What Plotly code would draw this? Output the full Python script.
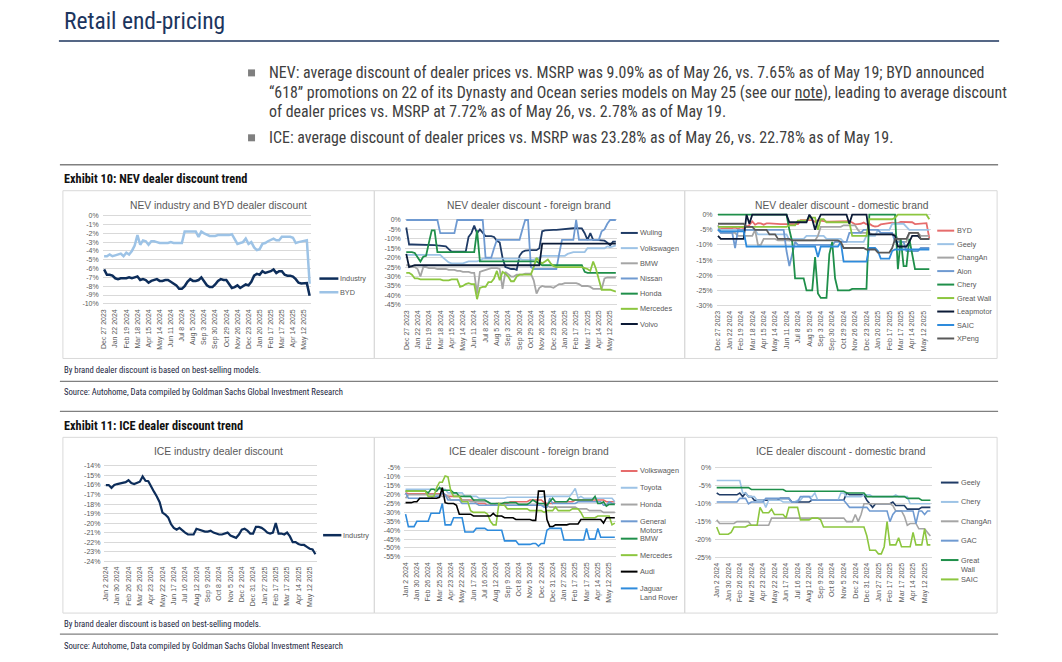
import plotly.graph_objects as go

# ---------------- tick labels ----------------
NEV_TICKS = ["Dec 27 2023", "Jan 22 2024", "Feb 19 2024", "Mar 18 2024", "Apr 15 2024",
             "May 14 2024", "Jun 11 2024", "Jul 8 2024", "Aug 5 2024", "Sep 3 2024",
             "Sep 30 2024", "Oct 29 2024", "Nov 26 2024", "Dec 23 2024", "Jan 20 2025",
             "Feb 17 2025", "Mar 17 2025", "Apr 14 2025", "May 12 2025"]
ICE_TICKS = ["Jan 2 2024", "Jan 30 2024", "Feb 26 2024", "Mar 25 2024", "Apr 23 2024",
             "May 22 2024", "Jun 17 2024", "Jul 16 2024", "Aug 12 2024", "Sep 9 2024",
             "Oct 8 2024", "Nov 5 2024", "Dec 2 2024", "Dec 31 2024", "Jan 27 2025",
             "Feb 17 2025", "Mar 17 2025", "Apr 14 2025", "May 12 2025"]

# ---------------- NEV industry & BYD (%) ----------------
nev_industry = [-6.1, -6.7, -6.7, -6.8, -7.1, -7.2, -7.1, -7.1, -7.1, -7.0,
                -7.1, -7.0, -6.9, -7.3, -7.2, -7.3, -7.6, -7.4, -7.3, -7.2,
                -7.4, -7.4, -7.3, -7.3, -7.5, -7.7, -7.9, -8.3, -8.3, -8.0,
                -7.5, -7.2, -7.4, -7.4, -7.3, -7.0, -7.5, -7.9, -8.1, -8.1,
                -7.8, -7.4, -7.2, -7.3, -7.3, -7.8, -8.2, -8.1, -7.9, -8.2,
                -8.0, -7.8, -7.9, -7.5, -6.8, -6.6, -6.7, -6.3, -6.5, -6.4,
                -6.3, -6.1, -6.5, -6.3, -6.3, -6.7, -6.8, -6.8, -6.9, -7.2,
                -7.6, -7.7, -7.7, -7.65, -9.09]
nev_byd = [-4.6, -4.6, -4.4, -4.6, -4.5, -4.4, -4.3, -4.6, -4.2, -4.4,
           -4.0, -3.4, -2.2, -3.3, -2.8, -2.9, -3.3, -2.9, -2.9, -3.0,
           -3.1, -3.1, -3.1, -3.1, -3.0, -3.1, -3.1, -3.1, -3.1, -1.8,
           -1.8, -1.8, -1.8, -1.8, -2.4, -1.8, -2.0, -2.2, -2.3, -2.3,
           -2.3, -2.2, -2.2, -2.2, -2.2, -2.2, -2.1, -2.6, -3.2, -3.1,
           -3.0, -2.6, -3.2, -3.0, -3.6, -3.9, -3.8, -3.2, -3.1, -2.9,
           -2.7, -2.6, -2.8, -2.8, -2.4, -2.4, -2.4, -2.4, -2.5, -3.1,
           -3.0, -2.9, -2.8, -2.78, -7.72]

# ---------------- NEV foreign brands (%) ----------------
nev_wuling = [-4, -13, -13, -13, -13, -13, -13, -13, -13, -13,
              -13.3, -13.5, -13.6, -13.6, -14, -15.5, -16.8, -16.8, -16.8, -16.8,
              -16.8, -16.8, -9, -7, -3, -7, -5, -7, -8.5, -8.6,
              -8.6, -9, -11, -12, -20, -25, -25.5, -26, -26, -26.5,
              -19, -17, -16.3, -16, -16, -16, -16, -15, -6, -5.5,
              -5.3, -5.3, -5.2, -5.2, -5, -5, -4.8, -4.8, -4.6, -4.4,
              -4.4, -4.4, -4.5, -7, -10.5, -7, -10.5, -10.6, -10.6, -10.8,
              -11, -12, -13.5, -11.5, -11.5]
nev_vw = [-18.5, -18.5, -18.5, -18.5, -18.5, -18.5, -18.5, -18.5, -18.5, -18.5,
          -18.5, -18.5, -18.5, -20, -21.5, -22.5, -23, -23, -23, -23,
          -23, -22.5, -22, -22, -22, -22, -21.5, -20.5, -20.5, -20.5,
          -20.5, -20.5, -20.5, -20.5, -20.5, -20.5, -20.5, -20.5, -20.5, -20.5,
          -20.5, -21, -21, -21, -21, -21, -20.5, -20, -19, -19,
          -19, -19, -19, -19, -19, -19, -19, -18, -17.5, -17,
          -17, -17, -17, -17, -15, -15, -15, -15, -15, -15,
          -15, -14, -14.5, -14, -13.5]
nev_bmw = [-24, -24, -25, -25, -26, -30, -25, -25, -25.5, -25.5,
           -25.5, -26, -26, -26, -26, -26.5, -26.5, -26.5, -27, -27,
           -27.5, -27.5, -27.5, -28, -28, -39, -27.5, -27, -26.5, -26,
           -25.5, -25.5, -25.5, -26, -36.5, -27.5, -29, -30, -30, -29,
           -29, -29, -28.5, -28.5, -28.5, -32, -39, -36, -35, -35.5,
           -35.5, -35.5, -36, -35, -34, -34, -33.5, -33.5, -33.5, -33.5,
           -33.5, -34, -35, -35, -35, -35.5, -36.5, -36.5, -36.5, -36.5,
           -31, -30.5, -30.5, -30.5, -30.5]
nev_nissan = [0, 0, 0, 0, 0, 0, 0, 0, 0, 0,
              0, 0, -7, -7, -7, -7, -7, -7, 0, 0,
              0, 0, 0, 0, 0, 0, 0, 0, -20, -20,
              -20, -15, -10.5, -10.5, -10.5, -10.5, -10.5, -10.5, -10.5, -10.5,
              -10.5, -5, 0, 0, -25, -26, -26, -26, -26, -26,
              -26, -26, -26, -26, -18, -10.5, -10.5, -10.5, -10.5, -10.5,
              0, -10.5, -10.5, -10.5, -10.5, -10.5, -10.5, -10.5, -10.5, -6,
              -5, -2, 0, 0, 0]
nev_honda = [-17, -17, -17, -17.5, -20, -22, -19.5, -19, -12, -5.5,
             -5.5, -17, -17, -17, -17, -17, -17, -17, -17, -17,
             -17, -17, -17, -17, -17, -5.5, -22, -22, -22, -22,
             -22, -22, -22, -22, -22, -22, -22, -22, -22, -22,
             -22, -22, -22, -22, -22, -22, -22, -23, -24, -24,
             -24, -24, -24, -24, -24, -24, -24, -24, -24, -24,
             -24, -24, -24, -27.5, -28, -28, -28, -28, -28, -28,
             -28, -28, -28, -28, -28]
nev_mercedes = [-28, -28, -29, -31, -31, -31.5, -31.5, -31.5, -31.5, -31.5,
                -31.5, -31.5, -31.5, -32, -32, -32, -31.5, -31.5, -31.5, -35.5,
                -35, -34, -33.5, -34, -34, -42, -36, -35.5, -35.5, -33,
                -33, -31, -27, -32, -27.5, -28.5, -30, -32.5, -32.5, -30,
                -29, -29, -29, -29, -29, -25, -20, -22, -23, -22,
                -21, -23, -24.5, -25, -25, -25, -25, -25, -25, -25,
                -25, -25, -25, -25.5, -26, -27, -22, -26, -32, -37,
                -37, -37, -37, -37.5, -38]
nev_volvo = [-18, -25, -24.5, -24, -24, -24, -24, -24, -24, -24,
             -24, -24, -24, -24, -24, -24, -24, -24, -24, -24,
             -24, -24, -24, -24, -24, -24, -24, -24, -24, -24,
             -24, -24, -24, -24, -24, -24, -24, -24, -24, -24,
             -24, -24, -24, -24, -24, -24, -24, -24, -12.5, -12.5,
             -12.5, -12.5, -12.5, -12.5, -12.5, -12.5, -12.5, -12.5, -12.5, -12.5,
             -12.5, -12.5, -12.5, -12.5, -12.5, -12.5, -12.5, -12.5, -12.5, -12.5,
             -12.5, -12.5, -12.5, -12.5, -12.5]

# ---------------- NEV domestic brands (%) ----------------
nev_geely = [-4.5, -5, -5, -5, -5, -5, -5, -5, -5, -5,
             -5, -5, -5, -5, -6.5, -6.5, -6.5, -6.5, -6.5, -6.5,
             -6.5, -6.5, -6.5, -6.5, -6.5, -8.5, -8, -8, -8, -8,
             -8, -7, -7, -7, -7, -7, -7, -7, -8, -8,
             -8, -8, -8, -8, -9, -9, -9, -9, -9, -9,
             -9, -9, -7, -7, -7, -7, -5, -5, -5, -5,
             -5, -3, -3, -3, -3, -3, -4, -5, -5, -5,
             -5, -5, -5, -5, -5]
nev_changan = [-3.5, -6, -6, -6, -6, -6, -6, -7, -7, -7,
               -7, -7, -7, -5, -10, -10, -8, -8, -8, -8,
               -8, -8.5, -8.5, -8.5, -8.5, -8.5, -8.5, -8.5, -8.5, -8.5,
               -8.5, -8.5, -8.5, -8.5, -8.5, -7, -4, -4, -4, -4,
               -4, -4, -4, -4, -3.5, -3.5, -3.5, -3.5, -3.5, -5,
               -6, -6, -6, -6, -6.5, -6.5, -6.5, -6.5, -6.5, -6.5,
               -6.5, -6.5, -6.5, -8, -9, -9, -9, -6, -6, -6,
               -6, -7, -7, -7, -7]
nev_aion = [-5, -6, -6, -6, -6, -6, -11, -5, -5, -5,
            -5, -5, -5, -5, -5, -5, -5, -5, -5, -5,
            -5, -5, -5, -5, -12, -17, -13, -9, -10, -10,
            -10, -10, -10, -10, -10, -10, -10, -10, -10, -10,
            -10, -9, -9, -9, -9, -9, -6, -6, -6, -6,
            -6, -5, -5, -5, -5, -5, -5, -6, -6, -6,
            -6, -6, -9, -9, -9, -9, -12, -12, -12, -12,
            -12, -11, -11, -11, -11]
nev_chery = [0, 0, 0, 0, 0, 0, 0, 0, 0, 0,
             0, 0, 0, 0, 0, 0, 0, 0, 0, 0,
             0, 0, 0, 0, 0, -5, -9, -21, -21, -21,
             -21, -25, -25, -25, -14, -26, -27.5, -27.5, -27.5, -13,
             -9, -21, -25, -25, -25, -25, -25, -24.5, -24.5, -24.5,
             -24.5, -24.5, -24.5, 0, 0, 0, 0, 0, 0, 0,
             0, 0, 0, -18, -8, -17, -17, -8, -13, -18,
             -18, -18, -18, -18, -18]
nev_greatwall = [-4, -4, -4, -4, -4, -4, -4, -4, -4, -4,
                 -4, -4, -4, -4, -4, -4, -4, -4, -4, -4,
                 -4, -4, -4, -4, -4, -3.5, -3.5, -3.5, -2, -2,
                 -2, -2, -1, -1, -1, -5, -1.5, -1.5, -2.5, -2.5,
                 -2.5, -2.5, -2.5, -2.5, -2.5, -2.5, -2.5, -7, -7, -7,
                 -7, -7, -7, -1.5, -1.5, -1.5, -1.5, -1.5, -1.5, -1.5,
                 -1.5, -1.5, -1, 0, 0, 0, 0, 0, 0, 0,
                 0, 0, 0, 0, -1.5]
nev_leapmotor = [-7, -8, -8, -8, -8, -8, -8, -8, -8, -8,
                 0, -3, 0, 0, 0, 0, 0, 0, 0, 0,
                 0, 0, 0, 0, 0, -2.5, -2.5, -2.5, -2.5, -2.5,
                 -2.5, -2.5, 0, -1.5, -5, -2, 0, 0, 0, 0,
                 0, 0, 0, 0, 0, 0, -3, 0, 0, 0,
                 0, 0, 0, -6.5, -6.5, -6.5, -6.5, -6.5, -6.5, -6.5,
                 -6.5, -6.5, -7, -10.5, -10.5, -10.5, -10.5, -9, -7, -7,
                 -7, -8, -8, -8, -8]
nev_saic = [-5, -5.5, -5.5, -5.5, -5.5, -5.5, -5.5, -5.5, -5.5, -5.5,
            -10.5, -10.5, -10.5, -10.5, -10.5, -10.5, -10.5, -10.5, -10.5, -10.5,
            -10.5, -10.5, -10.5, -10.5, -10.5, -10.5, -10.5, -10.5, -10.5, -10.5,
            -10.5, -10.5, -10.5, -10.5, -10.5, -14, -10.5, -10.5, -10.5, -10.5,
            -10.5, -10.5, -10.5, -9, -15.5, -15.5, -15.5, -15.5, -15.5, -15.5,
            -15.5, -15.5, -15.5, -11, -11, -11, -12, -14.5, -14.5, -14.5,
            -14.5, -12, -11.5, -11.5, -11.5, -11.5, -11.5, -11.5, -11.5, -11.5,
            -11.5, -11.5, -11.5, -11.5, -11.5]
nev_xpeng = [-3, -3, -3, -3, -3, -3, -3, -3, -3, -3,
             -4, -4, -4, -5, -5, -5, -5, -5, -6.5, -6.5,
             -6.5, -8, -8, -8, -8, -8, -8.5, -8.5, -8.5, -8.5,
             -8.5, -8.5, -8.5, -8.5, -8.5, -8.5, -8.5, -8.5, -8.5, -8.5,
             -8.5, -8.5, -8.5, -9, -11, -11, -11, -11, -11, -11,
             -11, -11, -11.5, -11.5, -11.5, -11.5, -12.5, -12.5, -12.5, -12.5,
             -12.5, -11, -8, -8, -8, -8, -8, -6, -6, -6,
             -6, -8, -8, -8, -8]

# ---------------- ICE industry (%) ----------------
ice_industry = [-16.0, -16.0, -16.3, -16.0, -15.9, -15.85, -15.8, -15.7, -15.5, -15.8,
                -15.9, -15.75, -15.65, -15.1, -15.55, -15.6, -16.2, -16.7, -17.2, -17.8,
                -18.9, -19.1, -19.4, -20.1, -20.5, -20.7, -20.5, -20.8, -21.0, -21.2,
                -21.2, -21.2, -20.6, -20.7, -20.8, -20.9, -20.9, -20.8, -21.0, -21.1,
                -21.2, -21.2, -21.1, -21.0, -21.3, -21.4, -21.55, -21.2, -20.7, -20.6,
                -20.8, -21.1, -21.1, -20.4, -20.4, -20.5, -20.7, -21.0, -21.1, -21.0,
                -20.0, -21.1, -21.1, -21.2, -21.0, -21.4, -22.0, -22.0, -22.2, -22.3,
                -22.3, -22.5, -22.7, -22.78, -23.28]

# ---------------- ICE foreign brands (%) ----------------
ice_vw = [-19, -19.5, -19.5, -19.5, -19.5, -19.5, -19.5, -19.5, -19.5, -19.5,
          -19.5, -19.5, -19.5, -19.5, -20, -21, -21, -21, -21, -21,
          -23, -23, -23, -23, -23, -25, -25, -25, -25, -26,
          -26, -26, -25, -25, -25, -25, -25, -24, -24, -24,
          -24, -24, -24, -24, -23, -23, -23, -23, -23, -24.5,
          -25, -25, -25, -24, -24, -24, -24, -24, -24, -24,
          -23, -23, -23, -23, -23, -23, -23, -23, -23, -23,
          -23, -24, -24, -24, -24]
ice_toyota = [-17, -17, -17, -17, -17, -17, -17, -17, -17, -17,
              -17, -17, -17, -17, -17, -19, -19, -19, -19, -19,
              -19, -21, -21, -21, -21, -21, -22, -22, -22, -22,
              -22, -22, -22, -22, -22, -22, -21.5, -21.5, -21.5, -21.5,
              -21.5, -21.5, -21.5, -21.5, -21.5, -21.5, -21.5, -21.5, -21.5, -21,
              -21, -21, -21, -21, -21, -21, -21, -21, -21, -19,
              -16.5, -22, -21, -22, -22, -22, -22, -22, -22, -22,
              -22, -22, -22, -22, -24]
ice_honda = [-22, -20, -20, -20, -20, -20, -20, -20, -20, -20,
             -20, -20, -20, -21, -21, -21, -23, -23, -23, -23,
             -23, -23, -23, -24, -24, -24, -24, -24, -24, -24,
             -25, -26, -26, -26, -26, -26, -26, -26, -26, -26,
             -26, -26, -26, -26, -26, -26, -26, -26, -26, -26,
             -26, -27, -27, -27, -27, -27, -27, -27, -27, -27,
             -27, -28, -28, -28, -28, -29, -29, -29, -29, -29,
             -30, -30, -30, -30, -30]
ice_gm = [-19, -22, -22, -22, -22, -22, -22, -22, -22, -22,
          -21, -21, -21, -19, -20, -23, -23, -23, -23, -23,
          -25, -25, -25, -25, -25, -25, -26, -26, -26, -26,
          -26, -26, -26, -26, -26, -26, -26, -26, -26, -26,
          -26, -26, -26, -26, -26, -26, -26, -26, -26, -27,
          -27, -22, -25, -25, -25, -25, -25, -25, -25, -25,
          -25, -24, -24, -24, -24, -24, -24, -24, -24, -24,
          -26, -26, -24, -25, -25]
ice_bmw = [-18, -18, -18, -18, -18, -18, -18, -18, -19, -17,
           -17, -18, -16, -17.5, -17.5, -17.5, -17.5, -19, -19, -21,
           -21, -21, -21, -21, -23, -23, -23, -23, -23, -24,
           -25, -25, -25, -25, -25, -24.5, -24.5, -24.5, -24.5, -24.5,
           -25.5, -25.5, -25.5, -25.5, -24.5, -23, -24, -25, -25, -25,
           -26, -24, -22, -24, -24, -24, -24, -24, -22, -23,
           -23, -23, -23, -23, -23, -23, -23, -21, -25, -25,
           -24, -26.5, -25.5, -25.5, -25.5]
ice_mercedes = [-18, -18, -18, -18, -18, -18, -18, -18, -21, -21,
                -21, -16, -13, -13, -9.5, -10, -18, -21, -21, -21,
                -24, -24, -24, -29, -30, -30, -30, -30, -30, -31,
                -35, -37, -37, -25, -26, -26, -28, -28, -28, -28,
                -28, -28, -28, -28, -29, -29, -29, -29, -29, -30,
                -29, -29, -29, -27, -29, -29, -29, -29, -29, -28,
                -28, -28, -30, -33, -33, -33, -33, -33, -32, -32,
                -32, -32, -32, -37, -36]
ice_audi = [-24.5, -24.5, -24.5, -24, -24, -22, -22, -22, -22, -22,
            -22, -22, -21.5, -16, -24.5, -25, -25, -25, -26, -31,
            -31, -31, -31, -31, -32, -32, -32, -32, -32, -32,
            -32, -30.5, -32, -32, -32, -33, -33, -33, -33, -34,
            -34, -34, -34, -34, -34, -34.5, -34.5, -18, -18, -18,
            -34, -38, -38, -37, -37, -37, -37, -37, -36.5, -36.5,
            -36.5, -36.5, -34, -34, -34, -34, -34, -34, -34, -34,
            -36, -33, -33, -33, -33]
ice_jlr = [-31, -38, -38, -38, -35, -35, -35, -35, -35, -30.5,
           -30.5, -30.5, -30.5, -25, -37, -37, -37, -33, -33, -33,
           -33, -41, -41, -41, -41, -39, -39, -39, -39, -40,
           -40, -40, -40, -40, -40, -46, -46, -46, -46, -46,
           -48, -48, -48, -48, -48, -47.5, -47.5, -49, -47.5, -47.5,
           -40, -39, -39, -39, -39, -39, -45.5, -45.5, -45.5, -45.5,
           -45.5, -45.5, -45.5, -45.5, -39, -45, -45, -45, -39, -44,
           -44, -44, -44, -44, -44]

# ---------------- ICE domestic brands (%) ----------------
ice_geely = [-7, -7.5, -7.5, -7.5, -7.5, -7.5, -7.5, -7.5, -7, -8,
             -7, -8, -8, -9, -9, -9, -9, -9, -9, -9,
             -9, -9, -8.5, -8.5, -8.5, -8.5, -9.5, -9.5, -9.5, -9.5,
             -9.5, -9.5, -9.5, -9, -9, -9, -9, -9, -9, -9,
             -9, -9, -9, -9, -9, -7, -7.5, -7.5, -7.5, -7.5,
             -7.5, -7.5, -9, -10, -11, -10, -10, -10, -10, -10,
             -10, -9.5, -10.5, -10.5, -10.5, -10.5, -11.5, -11.5, -11.5, -11.5,
             -11.5, -11, -11, -11, -11]
ice_chery = [-3.5, -3.5, -3.5, -3.5, -3.5, -3.5, -3.5, -3.5, -3.5, -7,
             -7, -8, -8, -8, -9, -9, -9, -11, -9, -9,
             -9, -9, -9, -9.5, -9.5, -9.5, -9.5, -9.5, -9, -9,
             -8, -8, -8, -8, -7, -9, -9, -9, -9, -9,
             -9, -9, -9, -7, -7, -8, -8, -8, -8, -8,
             -8, -7.5, -7.5, -7.5, -8, -8, -8, -8, -8, -8,
             -8, -8, -7.5, -8, -8, -8, -8, -10, -10, -10,
             -10, -10, -10, -10, -10]
ice_changan = [-14.5, -15.5, -15.5, -15.5, -15.5, -15.5, -15.5, -15, -15, -15,
               -15, -15, -16, -16, -16, -16, -16, -16, -16, -14,
               -14, -14, -14, -14, -14, -14, -14, -14, -14, -14,
               -14, -14, -14, -14, -14, -14, -14, -14, -14, -14,
               -14, -14, -14, -14, -14, -15, -15, -15, -13, -15,
               -13, -10, -10, -10, -10, -10, -10, -10, -10, -10,
               -10, -10.5, -12, -12, -12, -13.5, -16, -15.5, -15.5, -15.5,
               -17, -17, -17, -18, -19]
ice_gac = [-9.5, -9.5, -9.5, -9.5, -9.5, -9.5, -9.5, -9.5, -8.5, -8.5,
           -8.5, -10, -9.5, -9.5, -9.5, -9.5, -9.5, -8.5, -8.5, -8.5,
           -8.5, -8.5, -8.5, -8.5, -8.5, -8.5, -9.5, -9.5, -9.5, -8,
           -8, -8, -8, -9, -9, -9, -9, -9, -9, -9,
           -9, -9, -9, -9, -9, -10, -11, -11, -11, -11,
           -11, -11, -11, -12, -12, -12, -12, -12, -12, -12,
           -15, -13, -12, -12, -12, -12, -12, -12, -12, -15.5,
           -12, -12, -13, -12, -12]
ice_greatwall = [-5.5, -5.5, -5.5, -5.5, -5.5, -5.5, -5.5, -5.5, -5.5, -5.5,
                 -5.5, -5.5, -6, -6, -6, -6, -6, -6, -6, -6,
                 -6, -6, -6, -6, -6.5, -6.5, -6.5, -6.5, -6.5, -6.5,
                 -6.5, -6.5, -6.5, -6.5, -6.5, -6.5, -6.5, -6.5, -6.5, -6.5,
                 -6.5, -6.5, -6.5, -6.5, -6.5, -7, -7, -7, -7, -7,
                 -7, -7, -8, -8, -8, -8, -8, -8, -8, -8,
                 -8, -8, -8, -8, -8, -8, -8.5, -8.5, -8.5, -8.5,
                 -8.5, -9, -9, -9, -9]
ice_saic = [-16.5, -18.5, -18.5, -18.5, -18.5, -18, -16.5, -16.5, -16.5, -16.5,
            -16.5, -16, -16, -16, -16, -11, -12.5, -12.5, -12.5, -11.5,
            -13, -13, -13, -13, -14, -11, -11, -11, -11, -14.5,
            -14.5, -14.5, -14.5, -14, -14, -14, -14.5, -16.5, -16.5, -16.5,
            -16.5, -16.5, -16.5, -16.5, -16.5, -16.5, -16.5, -16.5, -16.5, -16.5,
            -16.5, -16.5, -19, -23, -23, -23, -24, -24, -22, -15,
            -21.5, -21.5, -21.5, -19.5, -22, -22, -22, -22, -18, -21.5,
            -21.5, -21.5, -17, -21.5, -21.5]

# ---------------- styling ----------------
W, H = 1062, 662          # browser window
OFF = 8                   # default page body margin
FW, FH = W - 2 * OFF, H - 2 * OFF
NAVY = "#0d2d5a"
WULING = "#1f3b66"
DEEPNAVY = "#0b1a36"
LBLUE = "#9dc3e6"
GRAY = "#a5a5a5"
MBLUE = "#6f9ad1"
GREEN = "#1f8f4a"
LGREEN = "#8cc63f"
SALMON = "#e66c6c"
BBLUE = "#2e8bdc"
DGRAY = "#595959"
BLACK = "#000000"

CHART_FONT = "Arial, Liberation Sans, sans-serif"
NARROW = "Liberation Sans Narrow, Arial Narrow, Roboto Condensed, sans-serif"
TXT = "#595959"


def fx(x):
    return (x - OFF) / FW


def fy(y):
    return 1 - (y - OFF) / FH


charts = [
    dict(title="NEV industry and BYD dealer discount", ticks=NEV_TICKS,
         xpix=(100.9, 309.6), ypix=(215.0, 303.3), yr=(-10, 0), ystep=1,
         tpos=(216.7, 204.5),
         series=[("Industry", nev_industry, NAVY, 2.5), ("BYD", nev_byd, LBLUE, 2.5)],
         leg=dict(x0=318, x1=337, tx=338, ys=[278.0, 291.7], w=2.5)),
    dict(title="NEV dealer discount - foreign brand", ticks=NEV_TICKS,
         xpix=(403.6, 616.4), ypix=(219.3, 304.3), yr=(-45, 0), ystep=5,
         tpos=(528, 204.5),
         series=[("Wuling", nev_wuling, WULING, 1.8), ("Volkswagen", nev_vw, LBLUE, 1.8),
                 ("BMW", nev_bmw, GRAY, 1.8), ("Nissan", nev_nissan, MBLUE, 1.8),
                 ("Honda", nev_honda, GREEN, 1.8), ("Mercedes", nev_mercedes, LGREEN, 1.8),
                 ("Volvo", nev_volvo, DEEPNAVY, 1.8)],
         leg=dict(x0=620, x1=637, tx=638.5,
                  ys=[232.3, 247.5, 262.7, 277.9, 293.1, 308.3, 323.5], w=2)),
    dict(title="NEV dealer discount - domestic brand", ticks=NEV_TICKS,
         xpix=(715.9, 930.5), ypix=(214.0, 305.0), yr=(-30, 0), ystep=5,
         tpos=(841.7, 204.5),
         series=[("BYD", nev_byd, SALMON, 1.8), ("Geely", nev_geely, LBLUE, 1.8),
                 ("ChangAn", nev_changan, GRAY, 1.8), ("Aion", nev_aion, MBLUE, 1.8),
                 ("Chery", nev_chery, GREEN, 1.8), ("Great Wall", nev_greatwall, LGREEN, 1.8),
                 ("Leapmotor", nev_leapmotor, DEEPNAVY, 1.8), ("SAIC", nev_saic, BBLUE, 1.8),
                 ("XPeng", nev_xpeng, DGRAY, 1.8)],
         leg=dict(x0=937, x1=954, tx=955.5,
                  ys=[230.0, 243.5, 257.0, 270.5, 284.0, 297.5, 311.0, 324.5, 338.0], w=2)),
    dict(title="ICE industry dealer discount", ticks=ICE_TICKS,
         xpix=(102.6, 315.4), ypix=(465.7, 561.0), yr=(-24, -14), ystep=1,
         tpos=(216.7, 451),
         series=[("Industry", ice_industry, NAVY, 2.2)],
         leg=dict(x0=321.7, x1=340, tx=341, ys=[535.0], w=2.5)),
    dict(title="ICE dealer discount - foreign brand", ticks=ICE_TICKS,
         xpix=(402.9, 615.4), ypix=(467.7, 556.7), yr=(-55, -5), ystep=5,
         tpos=(528, 451),
         series=[("Volkswagen", ice_vw, SALMON, 1.6), ("Toyota", ice_toyota, LBLUE, 1.6),
                 ("Honda", ice_honda, GRAY, 1.6), ("General<br>Motors", ice_gm, MBLUE, 1.6),
                 ("BMW", ice_bmw, GREEN, 1.6), ("Mercedes", ice_mercedes, LGREEN, 1.6),
                 ("Audi", ice_audi, BLACK, 1.6), ("Jaguar<br>Land Rover", ice_jlr, BBLUE, 1.6)],
         leg=dict(x0=620, x1=636.7, tx=638.5,
                  ys=[470.7, 487.5, 504.3, 521.1, 538.5, 555.0, 571.5, 588.3], w=2)),
    dict(title="ICE dealer discount - domestic brand", ticks=ICE_TICKS,
         xpix=(714.6, 931.6), ypix=(467.7, 557.3), yr=(-25, 0), ystep=5,
         tpos=(840.7, 451),
         series=[("Geely", ice_geely, WULING, 1.6), ("Chery", ice_chery, LBLUE, 1.6),
                 ("ChangAn", ice_changan, GRAY, 1.6), ("GAC", ice_gac, MBLUE, 1.6),
                 ("Great<br>Wall", ice_greatwall, GREEN, 1.6), ("SAIC", ice_saic, LGREEN, 1.6)],
         leg=dict(x0=940.7, x1=958.3, tx=959.5,
                  ys=[482.3, 501.7, 521.1, 540.5, 559.9, 579.3], w=2)),
]

fig = go.Figure()
layout = {}
shapes = []
annotations = []
LEG_SIZE = 7.3
LEG_LINE = 9.2

for k, c in enumerate(charts):
    s = "" if k == 0 else str(k + 1)
    ymin, ymax = c["yr"]
    top, bot = c["ypix"]
    ppu = (bot - top) / (ymax - ymin)       # pixels per unit
    pad = 3.0                               # extra room so edge lines are not clipped
    ext = pad / ppu
    for name, vals, color, width in c["series"]:
        fig.add_trace(go.Scatter(
            x=list(range(len(vals))), y=vals, mode="lines", name=name.replace("<br>", " "),
            line=dict(color=color, width=width), xaxis="x" + s, yaxis="y" + s,
            hoverinfo="skip", showlegend=False))
    nt = len(c["ticks"])
    layout["xaxis" + s] = dict(
        domain=[fx(c["xpix"][0]), fx(c["xpix"][1])], range=[-0.5, 4 * (nt - 1) + 2.5],
        anchor="y" + s, tickmode="array", tickvals=list(range(0, 4 * nt, 4)),
        ticktext=c["ticks"], tickangle=-90, showgrid=False, zeroline=False,
        showline=False, ticks="", fixedrange=True,
        tickfont=dict(family=CHART_FONT, size=7, color=TXT))
    yt = list(range(ymin, ymax + 1, c["ystep"]))
    layout["yaxis" + s] = dict(
        domain=[fy(bot + pad), fy(top - pad)], range=[ymin - ext, ymax + ext],
        anchor="x" + s, tickmode="array", tickvals=yt, ticktext=[f"{v}%" for v in yt],
        showgrid=True, gridcolor="#d9d9d9", gridwidth=0.8, zeroline=False,
        showline=False, ticks="", fixedrange=True, ticklabelstandoff=3,
        tickfont=dict(family=CHART_FONT, size=7, color=TXT))
    # chart title
    annotations.append(dict(xref="paper", yref="paper", x=fx(c["tpos"][0]), y=fy(c["tpos"][1]),
                            text=c["title"], showarrow=False, xanchor="center", yanchor="middle",
                            font=dict(family=CHART_FONT, size=10.3, color=TXT)))
    # legend (manual, to match Excel spacing)
    lg = c["leg"]
    for (name, vals, color, width), yy in zip(c["series"], lg["ys"]):
        shapes.append(dict(type="line", xref="paper", yref="paper", x0=fx(lg["x0"]), x1=fx(lg["x1"]),
                           y0=fy(yy), y1=fy(yy), line=dict(color=color, width=lg["w"])))
        for j, part in enumerate(name.split("<br>")):
            annotations.append(dict(xref="paper", yref="paper", x=fx(lg["tx"]),
                                    y=fy(yy + j * LEG_LINE), text=part, showarrow=False,
                                    xanchor="left", yanchor="middle", borderpad=0,
                                    font=dict(family=CHART_FONT, size=LEG_SIZE, color=TXT)))

# chart boxes
for (x0, x1) in [(61, 373), (373, 684), (684, 997)]:
    for (y0, y1) in [(190, 358), (437, 613)]:
        shapes.append(dict(type="rect", xref="paper", yref="paper", x0=fx(x0), x1=fx(x1),
                           y0=fy(y0), y1=fy(y1), line=dict(color="#d9d9d9", width=1)))

# page rules
shapes.append(dict(type="line", xref="paper", yref="paper", x0=fx(57), x1=fx(999), y0=fy(40), y1=fy(40),
                   line=dict(color="#1c355e", width=1.5)))
for yy in [164, 381, 411, 634]:
    shapes.append(dict(type="line", xref="paper", yref="paper", x0=fx(58), x1=fx(998), y0=fy(yy), y1=fy(yy),
                       line=dict(color="#808080", width=1.3)))

# bullet squares
for yy in [72, 137]:
    shapes.append(dict(type="rect", xref="paper", yref="paper", x0=fx(246.5), x1=fx(253.5),
                       y0=fy(yy + 3.5), y1=fy(yy - 3.5), fillcolor="#7f7f7f", line=dict(width=0)))


def page_text(x, y, text, size, color="#404040", bold=False, family=NARROW):
    annotations.append(dict(xref="paper", yref="paper", x=fx(x), y=fy(y),
                            text=f"<b>{text}</b>" if bold else text, showarrow=False,
                            xanchor="left", yanchor="middle",
                            font=dict(family=family, size=size, color=color)))


page_text(60, 20, "Retail end-pricing", 23.5, color="#1c355e")
BODY = 15.9
page_text(265, 72, "NEV: average discount of dealer prices vs. MSRP was 9.09% as of May 26, vs. 7.65% as of May 19; BYD announced", BODY)
page_text(265, 91.5, "“618” promotions on 22 of its Dynasty and Ocean series models on May 25 (see our "
                     "<span style='text-decoration:underline'>note</span>), leading to average discount", BODY)
page_text(265, 111, "of dealer prices vs. MSRP at 7.72% as of May 26, vs. 2.78% as of May 19.", BODY)
page_text(265, 137, "ICE: average discount of dealer prices vs. MSRP was 23.28% as of May 26, vs. 22.78% as of May 19.", BODY)

page_text(60, 178.5, "Exhibit 10: NEV dealer discount trend", 12.3, color="#111111", bold=True)
page_text(60, 425.5, "Exhibit 11: ICE dealer discount trend", 12.3, color="#111111", bold=True)
for yy in [370, 623.5]:
    page_text(60, yy, "By brand dealer discount is based on best-selling models.", 8.7, color="#1a2540")
for yy in [391.5, 646]:
    page_text(60, yy, "Source: Autohome, Data compiled by Goldman Sachs Global Investment Research", 8.7,
              color="#1a2540")

layout.update(width=FW, height=FH, margin=dict(l=0, r=0, t=0, b=0, pad=0),
              paper_bgcolor="white", plot_bgcolor="rgba(0,0,0,0)", showlegend=False,
              shapes=shapes, annotations=annotations)
fig.update_layout(**layout)
fig.write_html("out.html")
